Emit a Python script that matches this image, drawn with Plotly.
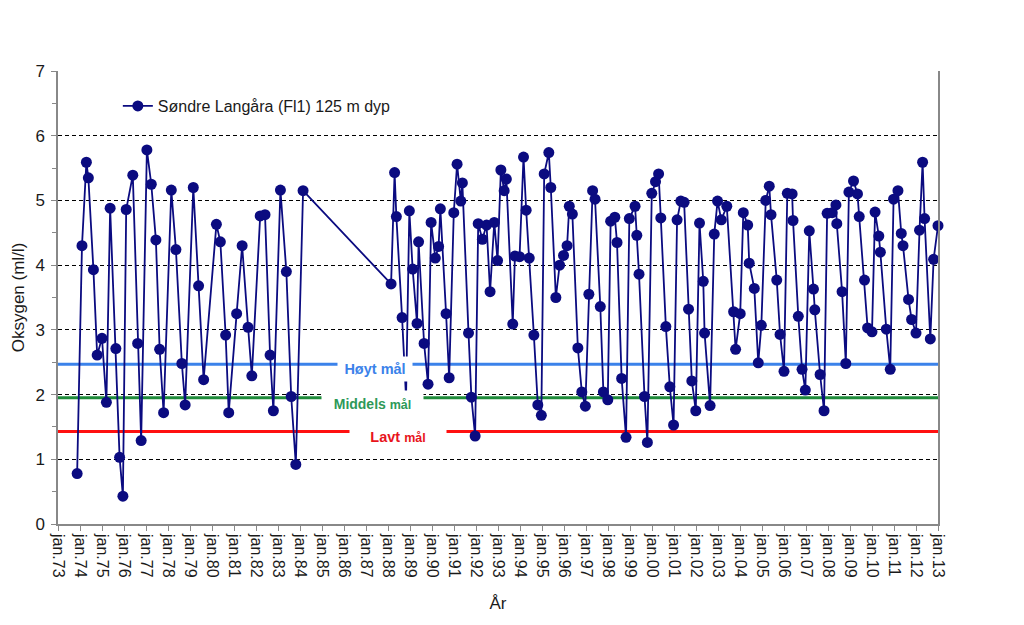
import plotly.graph_objects as go

# ---- data ----
years = [1973.87, 1974.09, 1974.29, 1974.38, 1974.61, 1974.78, 1975.00, 1975.20, 1975.37, 1975.63,
         1975.80, 1975.95, 1976.10, 1976.40, 1976.62, 1976.78, 1977.04, 1977.24, 1977.45, 1977.62,
         1977.80, 1978.15, 1978.36, 1978.63, 1978.78, 1979.15, 1979.39, 1979.62, 1980.20, 1980.38,
         1980.62, 1980.76, 1981.12, 1981.37, 1981.64, 1981.81, 1982.19, 1982.41, 1982.64, 1982.79,
         1983.11, 1983.38, 1983.60, 1983.81, 1984.14, 1988.14, 1988.30, 1988.38, 1988.64, 1988.82,
         1988.97, 1989.12, 1989.32, 1989.39, 1989.64, 1989.82, 1989.96, 1990.15, 1990.30, 1990.38,
         1990.64, 1990.78, 1990.99, 1991.14, 1991.31, 1991.38, 1991.66, 1991.79, 1991.96, 1992.10,
         1992.29, 1992.48, 1992.64, 1992.83, 1992.98, 1993.13, 1993.28, 1993.38, 1993.67, 1993.77,
         1993.98, 1994.16, 1994.28, 1994.42, 1994.63, 1994.81, 1994.97, 1995.10, 1995.31, 1995.40,
         1995.63, 1995.80, 1995.98, 1996.14, 1996.24, 1996.38, 1996.63, 1996.81, 1996.97, 1997.13,
         1997.30, 1997.41, 1997.65, 1997.79, 1997.99, 1998.12, 1998.31, 1998.41, 1998.62, 1998.82,
         1998.97, 1999.23, 1999.31, 1999.41, 1999.66, 1999.79, 1999.99, 2000.16, 2000.30, 2000.40,
         2000.63, 2000.81, 2000.98, 2001.14, 2001.31, 2001.46, 2001.66, 2001.81, 2001.99, 2002.16,
         2002.33, 2002.39, 2002.64, 2002.83, 2002.98, 2003.15, 2003.40, 2003.71, 2003.80, 2004.01,
         2004.15, 2004.35, 2004.42, 2004.65, 2004.83, 2004.97, 2005.17, 2005.33, 2005.41, 2005.67,
         2005.82, 2006.00, 2006.15, 2006.37, 2006.41, 2006.65, 2006.82, 2006.97, 2007.15, 2007.34,
         2007.40, 2007.64, 2007.82, 2007.96, 2008.19, 2008.36, 2008.40, 2008.64, 2008.81, 2008.95,
         2009.16, 2009.34, 2009.42, 2009.66, 2009.80, 2010.00, 2010.14, 2010.31, 2010.38, 2010.65,
         2010.83, 2010.98, 2011.18, 2011.33, 2011.41, 2011.66, 2011.80, 2012.00, 2012.16, 2012.30,
         2012.39, 2012.65, 2012.80, 2013.00]

oxygen = [0.78, 4.30, 5.59, 5.35, 3.93, 2.61, 2.87, 1.88, 4.88, 2.71,
          1.03, 0.43, 4.86, 5.39, 2.79, 1.29, 5.78, 5.25, 4.39, 2.70,
          1.72, 5.16, 4.24, 2.48, 1.84, 5.20, 3.68, 2.23, 4.63, 4.36,
          2.92, 1.72, 3.25, 4.30, 3.04, 2.29, 4.76, 4.78, 2.61, 1.75,
          5.16, 3.90, 1.97, 0.92, 5.15, 3.71, 5.43, 4.75, 3.19, 1.95,
          4.84, 3.94, 3.10, 4.36, 2.79, 2.16, 4.66, 4.11, 4.29, 4.87,
          3.25, 2.26, 4.81, 5.56, 4.99, 5.27, 2.95, 1.96, 1.36, 4.64,
          4.40, 4.62, 3.59, 4.66, 4.07, 5.47, 5.15, 5.33, 3.09, 4.14,
          4.13, 5.67, 4.85, 4.11, 2.92, 1.84, 1.68, 5.41, 5.74, 5.20,
          3.50, 4.00, 4.15, 4.30, 4.91, 4.79, 2.72, 2.04, 1.82, 3.55,
          5.15, 5.02, 3.36, 2.04, 1.92, 4.68, 4.74, 4.35, 2.25, 1.34,
          4.72, 4.91, 4.46, 3.86, 1.97, 1.26, 5.11, 5.29, 5.41, 4.73,
          3.05, 2.12, 1.53, 4.70, 4.99, 4.97, 3.32, 2.21, 1.75, 4.65,
          3.75, 2.95, 1.83, 4.48, 4.99, 4.70, 4.91, 3.28, 2.70, 3.25,
          4.81, 4.62, 4.03, 3.64, 2.49, 3.07, 5.00, 5.22, 4.78, 3.77,
          2.93, 2.36, 5.11, 5.10, 4.69, 3.21, 2.39, 2.07, 4.53, 3.63,
          3.31, 2.31, 1.75, 4.80, 4.81, 4.93, 4.64, 3.59, 2.48, 5.13,
          5.30, 5.10, 4.75, 3.77, 3.03, 2.97, 4.82, 4.45, 4.20, 3.01,
          2.39, 5.02, 5.15, 4.49, 4.30, 3.47, 3.16, 2.95, 4.54, 5.59,
          4.72, 2.86, 4.09, 4.61]

tick_years = list(range(1973, 2014))
tick_labels = ["jan.%02d" % (y % 100) for y in tick_years]

target_names = ["Høyt mål", "Middels mål", "Lavt mål"]
target_levels = [2.47, 1.95, 1.43]
target_colors = ["#3B82EA", "#1E8B3A", "#FF1010"]

series_name = "Søndre Langåra (Fl1) 125 m dyp"

FONT = "Liberation Sans, Arial, sans-serif"
NAVY = "#0B0B80"

fig = go.Figure()

fig.add_trace(go.Scatter(
    x=years, y=oxygen, mode="lines+markers", name=series_name,
    line=dict(color=NAVY, width=1.8),
    marker=dict(color=NAVY, size=11, line=dict(width=0)),
    cliponaxis=False,
))

shapes = []
for lvl, col in zip(target_levels, target_colors):
    shapes.append(dict(type="line", xref="paper", x0=0, x1=1, yref="y", y0=lvl, y1=lvl,
                       line=dict(color=col, width=3), layer="between"))

# label boxes (white background hides the lines underneath, as in the reference)
label_texts = [
    "<b>Høyt mål</b>",
    "<b>Middels </b><b><span style='font-size:12.5px'>mål</span></b>",
    "<b>Lavt </b><b><span style='font-size:12.5px'>mål</span></b>",
]
label_text_colors = ["#3B82EA", "#2E9958", "#E8141C"]
label_x = [1987.42, 1987.31, 1988.47]
label_y = [2.395, 1.847, 1.337]
label_w = [74, 101, 96]
label_h = [24, 26, 24]
label_size = [14.5, 14, 14.5]

annotations = []
for t, c, x, y, w, h, s in zip(label_texts, label_text_colors, label_x, label_y, label_w, label_h, label_size):
    annotations.append(dict(x=x, y=y, xref="x", yref="y", text=t, showarrow=False,
                            xanchor="center", yanchor="middle", width=w, height=h,
                            bgcolor="white", borderpad=0,
                            font=dict(family=FONT, size=s, color=c)))

fig.update_layout(
    width=1016, height=617,
    margin=dict(l=50, r=86, t=63, b=101, autoexpand=False),
    paper_bgcolor="white", plot_bgcolor="white",
    font=dict(family=FONT, size=16, color="#1a1a1a"),
    showlegend=True,
    legend=dict(x=0.068, y=0.9227, xanchor="left", yanchor="middle",
                bgcolor="rgba(0,0,0,0)", font=dict(family=FONT, size=16, color="#1a1a1a"),
                itemwidth=30),
    shapes=shapes,
    annotations=annotations,
    xaxis=dict(
        range=[1973, 2013], tickmode="array", tickvals=tick_years, ticktext=tick_labels,
        tickangle=90, ticks="outside", ticklen=5, tickcolor="#888888", tickwidth=1,
        showline=True, linecolor="#888888", linewidth=1.5, showgrid=False, zeroline=False,
        tickfont=dict(family=FONT, size=16, color="#1a1a1a"),
        title=dict(text="År", font=dict(family=FONT, size=17, color="#1a1a1a"), standoff=20),
        automargin=False,
    ),
    yaxis=dict(
        range=[0, 7], dtick=1, tick0=0, ticks="outside", ticklen=5, tickcolor="#888888",
        showline=True, linecolor="#888888", linewidth=1.5, mirror=True,
        showgrid=True, gridcolor="#000000", gridwidth=1, griddash="4px,3px",
        zeroline=False, ticklabelstandoff=3,
        minor=dict(dtick=0.5, ticks="outside", ticklen=4, tickcolor="#888888", showgrid=False),
        tickfont=dict(family=FONT, size=17, color="#1a1a1a"),
        title=dict(text="Oksygen (ml/l)", font=dict(family=FONT, size=17, color="#1a1a1a"), standoff=6),
        automargin=False,
    ),
)

fig.write_html("out.html")
